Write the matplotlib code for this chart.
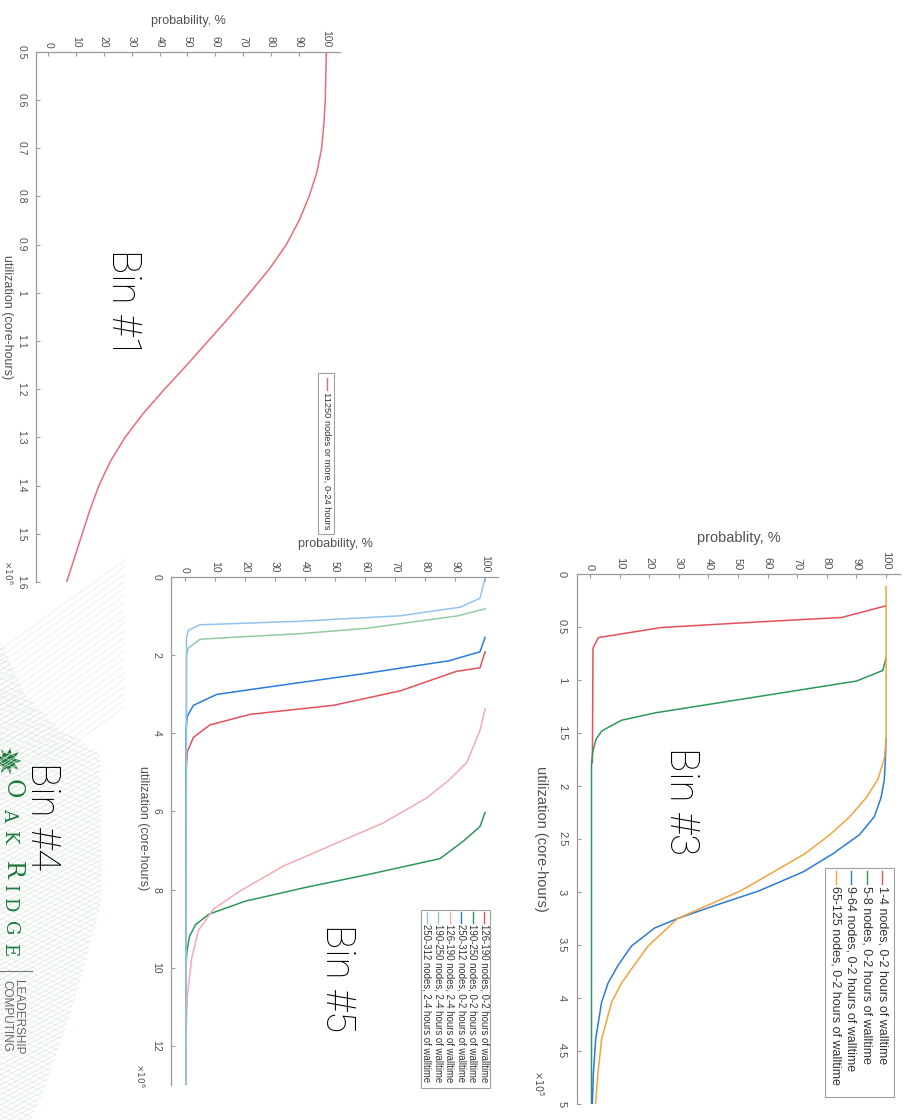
import numpy as np
import matplotlib
matplotlib.use("Agg")
import matplotlib.pyplot as plt
from matplotlib.patches import Rectangle, Polygon
from matplotlib.lines import Line2D
from matplotlib.ticker import FuncFormatter

plt.rcParams['font.family'] = ['Liberation Sans', 'DejaVu Sans']

# ---------------- data ----------------
# Bin #1 (utilization in 1e6 core-hours, probability in %)
bin1_labels = ["11250 nodes or more, 0-24 hours"]
bin1_util = [0.50, 0.60, 0.65, 0.70, 0.75, 0.80, 0.85, 0.90, 0.95, 1.00, 1.05, 1.10,
             1.15, 1.20, 1.25, 1.30, 1.35, 1.40, 1.45, 1.50, 1.55, 1.60]
bin1_prob = [100, 99.6, 99.1, 98.3, 96.6, 93.8, 90.2, 85.6, 79.6, 72.5, 65.2, 57.5,
             49.8, 41.8, 34.2, 27.6, 22.3, 18.2, 15.0, 12.2, 9.4, 6.6]

# Bin #3 (utilization in 1e5 core-hours)
bin3_labels = ["1-4 nodes, 0-2 hours of walltime",
               "5-8 nodes, 0-2 hours of walltime",
               "9-64 nodes, 0-2 hours of walltime",
               "65-125 nodes, 0-2 hours of walltime"]
bin3_util_1_4 = [0.30, 0.41, 0.455, 0.505, 0.60, 0.70, 1.78]
bin3_prob_1_4 = [100, 85, 55, 24, 2.8, 1.0, 0.8]
bin3_util_5_8 = [0.79, 0.91, 1.01, 1.16, 1.31, 1.38, 1.48, 1.56, 1.68, 1.80, 5.0]
bin3_prob_5_8 = [100, 98.9, 90, 56, 22, 10.6, 4.0, 2.0, 0.9, 0.5, 0.5]
bin3_util_9_64 = [1.55, 1.73, 1.94, 2.11, 2.29, 2.46, 2.64, 2.81, 2.99, 3.12, 3.25,
                  3.34, 3.51, 3.69, 3.86, 4.04, 4.39, 4.73, 5.0]
bin3_prob_9_64 = [100, 99.8, 99.4, 98.3, 96, 91, 82, 72, 57, 43, 29.6,
                  21.8, 14, 9.5, 6.1, 3.9, 1.9, 1.1, 0.8]
bin3_util_65_125 = [0.12, 1.55, 1.73, 1.94, 2.11, 2.29, 2.46, 2.64, 2.81, 2.99,
                    3.25, 3.51, 3.86, 4.04, 4.39, 4.73, 5.0]
bin3_prob_65_125 = [100, 100, 99.5, 97.2, 93.3, 87.7, 81, 72.5, 62, 50.8,
                    29.6, 19.6, 10.6, 7.3, 3.9, 2.6, 1.9]

# Bin #5 (utilization in 1e6 core-hours)
bin5_labels = ["126-190 nodes, 0-2 hours of walltime",
               "190-250 nodes, 0-2 hours of walltime",
               "250-312 nodes, 0-2 hours of walltime",
               "126-190 nodes, 2-4 hours of walltime",
               "190-250 nodes, 2-4 hours of walltime",
               "250-312 nodes, 2-4 hours of walltime"]
bin5_util_a = [1.92, 2.33, 2.42, 2.92, 3.29, 3.52, 3.79, 4.11, 4.47, 5.0, 13.0]
bin5_prob_a = [100, 98.3, 90.5, 71.7, 49.4, 21.7, 8.3, 2.8, 0.8, 0.3, 0.3]
bin5_util_b = [6.03, 6.39, 6.76, 7.21, 7.60, 7.95, 8.30, 8.63, 8.90, 9.20, 9.60, 10.0, 13.0]
bin5_prob_b = [100, 98.3, 92.8, 85, 62, 40, 20, 8.0, 3.5, 1.5, 0.6, 0.3, 0.3]
bin5_util_c = [1.55, 1.92, 2.15, 2.47, 2.83, 3.01, 3.29, 3.56, 3.93, 13.0]
bin5_prob_c = [100, 98.3, 88, 60.5, 27, 10.6, 2.8, 0.8, 0.3, 0.3]
bin5_util_d = [3.38, 3.93, 4.75, 5.20, 5.66, 6.30, 6.85, 7.40, 8.04, 8.50, 9.04,
               9.77, 10.7, 11.6, 13.0]
bin5_prob_d = [100, 98.3, 93.9, 88, 80.5, 66, 49.4, 32.8, 18.3, 9.5, 4.5,
               2.2, 0.8, 0.4, 0.3]
bin5_util_e = [0.82, 1.00, 1.32, 1.46, 1.55, 1.60, 1.83, 2.00, 13.0]
bin5_prob_e = [100, 91, 60.5, 38, 16, 5, 1.1, 0.5, 0.3]
bin5_util_f = [0.03, 0.55, 0.78, 1.00, 1.14, 1.23, 1.37, 1.55, 13.0]
bin5_prob_f = [100, 98.3, 91.7, 71.7, 38, 5, 1.1, 0.5, 0.3]

prob_ticks = list(range(0, 101, 10))
bin1_util_ticks = [0.5, 0.6, 0.7, 0.8, 0.9, 1.0, 1.1, 1.2, 1.3, 1.4, 1.5, 1.6]
bin3_util_ticks = [0, 0.5, 1, 1.5, 2, 2.5, 3, 3.5, 4, 4.5, 5]
bin5_util_ticks = [0, 2, 4, 6, 8, 10, 12]

RED = '#e4505c'
GREEN = '#2a9a5a'
BLUE = '#2b7bdc'
ORANGE = '#f5a23c'
PINK = '#f5aab4'
LGREEN = '#90cca2'
LBLUE = '#92c2f0'

# ---------------- figure helpers (pixel coordinates, y downward) ----------------
W, H = 908, 1120
fig = plt.figure(figsize=(W / 100, H / 100), dpi=100)
fig.patch.set_facecolor('white')


def px_axes(left, top, right, bottom, **kw):
    return fig.add_axes([left / W, 1 - bottom / H, (right - left) / W, (bottom - top) / H], **kw)


def ftext(x, y, s, **kw):
    return fig.text(x / W, 1 - y / H, s, **kw)


def fline(xs, ys, **kw):
    fig.add_artist(Line2D([x / W for x in xs], [1 - y / H for y in ys], **kw))


AXC = '#9a9a9a'
TXC = '#505050'


def style_axes(ax, xlim, ylim, yticks, fs):
    ax.set_xlim(*xlim)
    ax.set_ylim(ylim[1], ylim[0])
    ax.xaxis.tick_top()
    ax.set_xticks(prob_ticks)
    ax.set_yticks(yticks)
    ax.yaxis.set_major_formatter(FuncFormatter(lambda v, p: f'{v:g}'))
    for s in ['bottom', 'right']:
        ax.spines[s].set_visible(False)
    for s in ['top', 'left']:
        ax.spines[s].set_color(AXC)
        ax.spines[s].set_linewidth(0.9)
    ax.tick_params(axis='both', direction='in', length=3, width=0.8, color=AXC,
                   labelcolor=TXC, labelsize=fs)
    ax.tick_params(axis='x', pad=3, labelrotation=-90)
    ax.tick_params(axis='y', pad=7, labelrotation=-90)
    plt.setp(ax.get_yticklabels(), va='center')
    ax.patch.set_alpha(0)


def legend_box(box, xs, colors, labels, line_y, text_y, fs):
    x0, y0, x1, y1 = box
    fig.add_artist(Rectangle((x0 / W, 1 - y1 / H), (x1 - x0) / W, (y1 - y0) / H,
                             transform=fig.transFigure, facecolor='white',
                             edgecolor='#a0a0a0', lw=0.8))
    for x, c, lab in zip(xs, colors, labels):
        fline([x, x], line_y, color=c, lw=1.0)
        ftext(x, text_y, lab, rotation=-90, ha='center', va='top', fontsize=fs, color='#333333')


# ---------------- decorative slide background ----------------
bg = fig.add_axes([0, 0, 1, 1], zorder=-5)
bg.set_xlim(0, W)
bg.set_ylim(H, 0)
bg.axis('off')
for k in range(22):
    y_r = 560 + k * 7
    bg.plot([125, 0], [y_r, y_r + 90], color='#ececec', lw=0.5)
mesh = Polygon([(0, 640), (25, 695), (60, 730), (100, 752), (102, 900), (75, 1000),
                (40, 1100), (30, 1120), (0, 1120)], closed=True, transform=bg.transData)
for k in range(-60, 120):
    ln, = bg.plot([0, 110], [600 + k * 5, 600 + k * 5 - 60], color='#d6e7d9', lw=0.45)
    ln.set_clip_path(mesh)
    ln2, = bg.plot([0, 110], [600 + k * 6, 600 + k * 6 + 45], color='#dde9df', lw=0.4)
    ln2.set_clip_path(mesh)

# ---------------- Bin #1 ----------------
ax1 = px_axes(36, 51.7, 340, 582)
ax1.plot(bin1_prob, bin1_util, color='#e96c78', lw=1.1)
style_axes(ax1, (-4.42, 104.9), (0.5, 1.6), bin1_util_ticks, 7.5)
ftext(188, 21, 'probability, %', ha='center', va='center', fontsize=9, color=TXC)
ftext(7, 317, 'utilization (core-hours)', rotation=-90, ha='center', va='center',
      fontsize=9, color=TXC)
ftext(8, 572, r'$\times10^{6}$', rotation=-90, ha='center', va='center', fontsize=6.5, color=TXC)
legend_box((318, 373, 334, 534), [326.5], ['#e96c78'], bin1_labels, (378, 390), 392, 6.7)

# ---------------- Bin #3 ----------------
ax3 = px_axes(576.7, 574, 900, 1104)
ax3.plot(bin3_prob_1_4, bin3_util_1_4, color=RED, lw=1.1)
ax3.plot(bin3_prob_5_8, bin3_util_5_8, color=GREEN, lw=1.1)
ax3.plot(bin3_prob_9_64, bin3_util_9_64, color=BLUE, lw=1.1)
ax3.plot(bin3_prob_65_125, bin3_util_65_125, color=ORANGE, lw=1.1)
style_axes(ax3, (-4.5, 104.7), (0, 5), bin3_util_ticks, 8)
ftext(739, 538, 'probablity, %', ha='center', va='center', fontsize=10.5, color=TXC)
ftext(541, 839, 'utilization (core-hours)', rotation=-90, ha='center', va='center',
      fontsize=10.5, color=TXC)
ftext(539, 1083, r'$\times10^{5}$', rotation=-90, ha='center', va='center', fontsize=7, color=TXC)
legend_box((825, 868, 894, 1097), [882, 866.5, 851, 835.5],
           [RED, GREEN, BLUE, ORANGE], bin3_labels, (871, 884), 886, 9.0)

# ---------------- Bin #5 ----------------
ax5 = px_axes(171, 576.7, 498, 1085)
ax5.plot(bin5_prob_a, bin5_util_a, color=RED, lw=1.1)
ax5.plot(bin5_prob_b, bin5_util_b, color=GREEN, lw=1.1)
ax5.plot(bin5_prob_c, bin5_util_c, color=BLUE, lw=1.1)
ax5.plot(bin5_prob_d, bin5_util_d, color=PINK, lw=1.1)
ax5.plot(bin5_prob_e, bin5_util_e, color=LGREEN, lw=1.1)
ax5.plot(bin5_prob_f, bin5_util_f, color=LBLUE, lw=1.1)
style_axes(ax5, (-4.67, 104.3), (0, 13), bin5_util_ticks, 7.5)
ftext(335, 544, 'probability, %', ha='center', va='center', fontsize=9, color=TXC)
ftext(143, 828, 'utilization (core-hours)', rotation=-90, ha='center', va='center',
      fontsize=9, color=TXC)
ftext(140, 1075, r'$\times10^{6}$', rotation=-90, ha='center', va='center', fontsize=6.5, color=TXC)
legend_box((421, 910, 490, 1088), list(np.linspace(484, 427, 6)),
           [RED, GREEN, BLUE, PINK, LGREEN, LBLUE], bin5_labels, (912, 923), 924, 6.9)

# ---------------- logo ----------------
leaf_ang = np.linspace(0, 2 * np.pi, 19)[:-1]
leaf_r = np.where(np.arange(18) % 2 == 0, 14, 7)
leaf = Polygon(np.column_stack([8 + leaf_r * np.cos(leaf_ang), 761 + leaf_r * np.sin(leaf_ang)]),
               closed=True, facecolor='#1f7a3e', edgecolor='none', transform=bg.transData)
bg.add_patch(leaf)
logo_letters = [('O', 788.5, 17), ('A', 815, 13), ('K', 836.5, 13), ('R', 869.5, 17),
                ('I', 887.5, 13), ('D', 904, 13), ('G', 928, 13), ('E', 949.5, 13)]
for s, yc, fs in logo_letters:
    bg.text(0.5, yc, s, rotation=-90, ha='left', va='center', fontsize=fs,
            color='#1f7a3e', family=['DejaVu Serif'])
bg.plot([0, 32], [971, 971], color='#777777', lw=0.8)
bg.text(12, 980, 'LEADERSHIP', rotation=-90, ha='left', va='top', fontsize=8.5, color='#666666')
bg.text(0.5, 980, 'COMPUTING', rotation=-90, ha='left', va='top', fontsize=8.5, color='#666666')

# ---------------- bin titles ----------------
for s, x, y in [('Bin #1', 123, 303), ('Bin #3', 681, 801), ('Bin #5', 337, 978), ('Bin #4', 42, 816)]:
    ftext(x, y, s, rotation=-90, ha='center', va='center', fontsize=29, color='black',
          family=['Roboto', 'DejaVu Sans'], weight='light')

fig.savefig('out.png', dpi=100, facecolor='white')
